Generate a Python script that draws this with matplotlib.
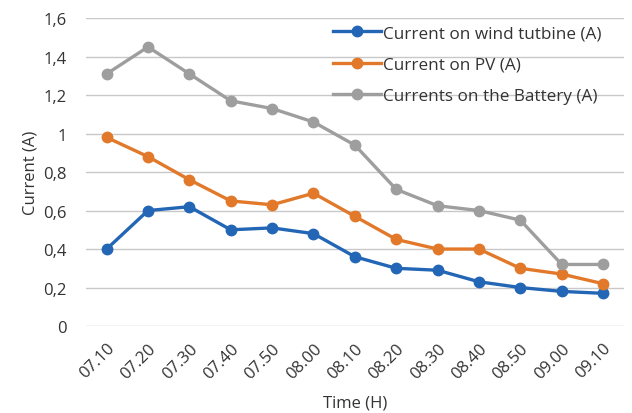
import matplotlib
matplotlib.use("Agg")
import matplotlib.pyplot as plt

# data
times = ["07.10", "07.20", "07.30", "07.40", "07.50", "08.00", "08.10",
         "08.20", "08.30", "08.40", "08.50", "09.00", "09.10"]
wind = [0.40, 0.60, 0.62, 0.50, 0.51, 0.48, 0.36, 0.30, 0.29, 0.23, 0.20, 0.18, 0.17]
pv = [0.98, 0.88, 0.76, 0.65, 0.63, 0.69, 0.57, 0.45, 0.40, 0.40, 0.30, 0.27, 0.22]
battery = [1.31, 1.45, 1.31, 1.17, 1.13, 1.06, 0.94, 0.71, 0.625, 0.60, 0.55, 0.32, 0.32]
y_ticks = [0, 0.2, 0.4, 0.6, 0.8, 1.0, 1.2, 1.4, 1.6]
y_labels = ["0", "0,2", "0,4", "0,6", "0,8", "1", "1,2", "1,4", "1,6"]

plt.rcParams["font.family"] = ["Open Sans", "DejaVu Sans"]
text_col = "#333333"

fig = plt.figure(figsize=(6.32, 4.14), dpi=100)
ax = fig.add_axes([0.136, 0.210, 0.851, 0.744])

x = range(len(times))
ax.plot(x, wind, color="#2266b5", lw=2.4, marker="o", ms=7.5, label="Current on wind tutbine (A)", zorder=3)
ax.plot(x, pv, color="#e2792a", lw=2.4, marker="o", ms=7.5, label="Current on PV (A)", zorder=3)
ax.plot(x, battery, color="#9e9e9e", lw=2.4, marker="o", ms=7.5, label="Currents on the Battery (A)", zorder=3)

ax.set_xlim(-0.5, len(times) - 0.5)
ax.set_ylim(0, 1.6)
ax.set_yticks(y_ticks)
ax.set_yticklabels(y_labels, fontsize=12, color=text_col)
ax.set_xticks(list(x))
ax.set_xticklabels(times, rotation=45, ha="right", rotation_mode="anchor", fontsize=12, color=text_col)
ax.tick_params(axis="y", length=0, pad=14)
ax.tick_params(axis="x", length=0, pad=10)
ax.grid(axis="y", color="#c8c8c8", lw=1)
ax.set_axisbelow(True)
for s in ax.spines.values():
    s.set_visible(False)

ax.set_ylabel("Current (A)", fontsize=12, color=text_col, labelpad=3)
ax.set_xlabel("Time (H)", fontsize=12, color=text_col, labelpad=9)

leg = ax.legend(loc="upper left", frameon=False, fontsize=12.3, handlelength=2.8,
                handletextpad=0.15, labelspacing=0.9, borderpad=0, borderaxespad=0,
                bbox_to_anchor=(0.459, 0.977))
for t in leg.get_texts():
    t.set_color(text_col)

fig.savefig("out.png", dpi=100)
